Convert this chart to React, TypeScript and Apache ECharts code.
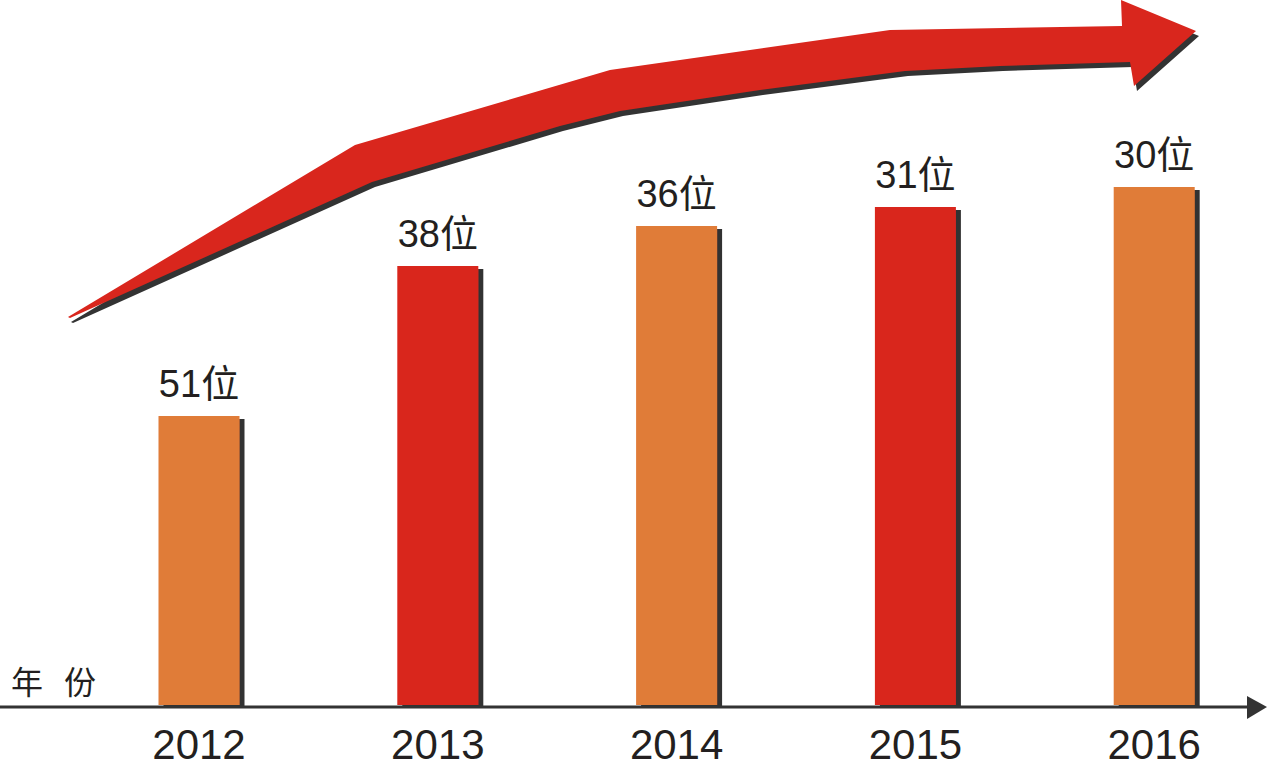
import React, { useEffect, useRef } from "react";
import * as echarts from "echarts";

const years = ["2012", "2013", "2014", "2015", "2016"];
const ranks = [51, 38, 36, 31, 30];
// relative bar heights as drawn in the picture
const barHeights = [289, 439, 479, 498, 518];
const barColors = ["#e07b39", "#d9261d", "#e07b39", "#d9261d", "#e07b39"];
const axisTitle = ["年", "份"];

const arrowPoints: number[][] = [
  [68, 317], [355, 145], [610, 70], [890, 30], [1122, 26],
  [1121, 0], [1196, 31], [1134, 86], [1130, 62],
  [1000, 66], [905, 71], [760, 90], [620, 111], [560, 126], [372, 182], [70, 318],
];

export default function App() {
  const ref = useRef<HTMLDivElement>(null);
  useEffect(() => {
    if (!ref.current) return;
    const chart = echarts.init(ref.current, null, { renderer: "svg" });
    const shadowPts = arrowPoints.map(([x, y]) => [x + 3, y + 5]);
    chart.setOption({
      animation: false,
      backgroundColor: "#ffffff",
      grid: { left: 79.6, width: 1194, top: 0, bottom: 59, outerBoundsMode: "none", containLabel: false },
      xAxis: {
        type: "category",
        data: years,
        axisLine: { show: false },
        axisTick: { show: false },
        axisLabel: {
          fontSize: 42,
          lineHeight: 36,
          color: "#231f20",
          fontFamily: "Liberation Sans, Arial, sans-serif",
          margin: 21,
        },
      },
      yAxis: { type: "value", min: 0, max: 705, show: false },
      series: [
        {
          type: "bar",
          barWidth: 81,
          data: barHeights.map((v, i) => ({
            value: v,
            itemStyle: { color: barColors[i] },
          })),
          itemStyle: {
            shadowColor: "#333333",
            shadowOffsetX: 5,
            shadowOffsetY: 3,
            shadowBlur: 0,
          },
          label: {
            show: true,
            position: "top",
            distance: 13,
            fontSize: 38,
            color: "#231f20",
            fontFamily: "Liberation Sans, Arial, Noto Sans CJK SC, sans-serif",
            formatter: (p: any) => ranks[p.dataIndex] + "位",
          },
        },
      ],
      graphic: [
        { type: "polygon", shape: { points: shadowPts }, style: { fill: "#333333" }, z: 10 },
        { type: "polygon", shape: { points: arrowPoints }, style: { fill: "#d9261d" }, z: 11 },
        {
          type: "line",
          shape: { x1: 0, y1: 707, x2: 1252, y2: 707 },
          style: { stroke: "#333333", lineWidth: 3 },
          z: 12,
        },
        {
          type: "polygon",
          shape: { points: [[1247, 696], [1267, 707], [1247, 719]] },
          style: { fill: "#333333" },
          z: 12,
        },
        {
          type: "text",
          x: 11,
          y: 664,
          style: {
            text: axisTitle[0],
            fontSize: 32,
            fill: "#231f20",
            fontFamily: "Noto Sans CJK SC, sans-serif",
          },
          z: 12,
        },
        {
          type: "text",
          x: 64,
          y: 664,
          style: {
            text: axisTitle[1],
            fontSize: 32,
            fill: "#231f20",
            fontFamily: "Noto Sans CJK SC, sans-serif",
          },
          z: 12,
        },
      ],
    });
    return () => chart.dispose();
  }, []);
  return (
    <div
      ref={ref}
      style={{ position: "fixed", left: 0, top: 0, width: 1268, height: 764 }}
    />
  );
}
